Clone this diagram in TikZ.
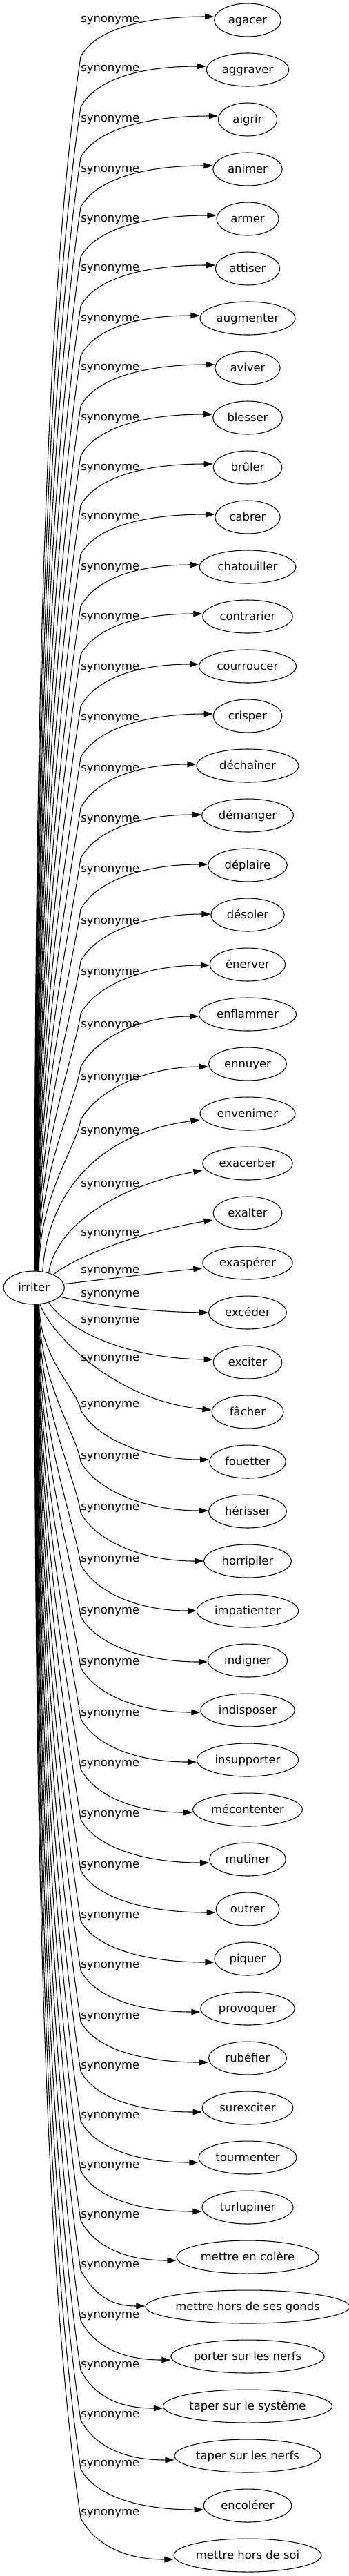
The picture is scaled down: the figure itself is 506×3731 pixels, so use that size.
\documentclass[tikz,border=0pt]{standalone}
\usepackage{fontspec}
\setmainfont{DejaVu Sans}
\usetikzlibrary{shapes.geometric,arrows.meta,calc}
\begin{document}
\begin{tikzpicture}[x=0.75pt,y=-0.75pt,
  every node/.style={font=\fontsize{12.3pt}{14pt}\selectfont, text height=10pt, text depth=1.4pt, inner sep=0pt},
  word/.style={ellipse, draw, line width=0.8pt, minimum height=36pt, minimum width=#1*0.75pt},
  lbl/.style={anchor=west},
  edge/.style={draw, line width=0.8pt, -{Triangle[length=9.75pt,width=6.5pt]}}]
\useasboundingbox (0,0) rectangle (506,3731);
\node[word=88.3] (irriter) at (49.2,1865) {irriter};
\foreach \i/\tx/\ww/\ly/\dty in {
0/agacer/96.7/28/-5, 1/aggraver/119.7/99/-5, 2/aigrir/85.3/172/-5, 3/animer/100.3/245/-5,
4/armer/90/317/-5, 5/attiser/93.3/388/-5, 6/augmenter/138/461/-4, 7/aviver/94.3/532/-5,
8/blesser/100.7/605/-5, 9/brûler/99.7/677/-5, 10/cabrer/94.3/748/-4, 11/chatouiller/139.7/821/-3,
12/contrarier/130.3/893/-4, 13/courroucer/141/966/-3, 14/crisper/99.7/1039/-3, 15/déchaîner/148/1113/-2,
16/démanger/132.7/1186/-1, 17/déplaire/114.7/1259/-1, 18/désoler/106.3/1334/-1, 19/énerver/109.3/1408/1,
20/enflammer/141/1484/3, 21/ennuyer/113/1560/4, 22/envenimer/138/1638/9, 23/exacerber/130.3/1715/10,
24/exalter/99.7/1786/10, 25/exaspérer/130.3/1840/8, 26/excéder/113/1874/0, 27/exciter/99.7/1912/-4,
28/fâcher/104/1967/-3, 29/fouetter/110.7/2034/-3, 30/hérisser/113/2109/-1, 31/horripiler/127/2183/0,
32/impatienter/147.3/2258/0, 33/indigner/115.3/2333/2, 34/indisposer/136.3/2407/3, 35/insupporter/147.3/2481/3,
36/mécontenter/158.7/2554/4, 37/mutiner/110.7/2627/5, 38/outrer/91.7/2701/5, 39/piquer/96/2774/5,
40/provoquer/136.3/2846/5, 41/rubéfier/113/2920/6, 42/surexciter/131.7/2992/6, 43/tourmenter/142/3064/7,
44/turlupiner/132/3136/6, 45/mettre en colère/206/3208/5, 46/mettre hors de ses gonds/283.3/3280/-1,
47/porter sur les nerfs/222.3/3353/5, 48/taper sur le système/245/3425/3, 49/taper sur les nerfs/212/3497/6,
50/encolérer/127.7/3568/6, 51/mettre hors de soi/214/3639/6} {
  \node[word=\ww] (n\i) at (359,{29+72*\i}) {\tx};
  \node[lbl] (l\i) at (117,{\ly-1}) {synonyme};
  \coordinate (T\i) at ($(n\i.west)+(0,\dty)$);
  \coordinate (M\i) at ({(117+359-\ww/2)/2},{29+72*\i+\dty});
}
% upper edges with bend near the labels
\foreach \i/\yb in {0/82,1/155,2/228,3/300,4/372,5/443,6/515,7/588,8/660,9/732,10/803,
  11/878,12/948,13/1023,14/1097,15/1170,16/1243,17/1317,18/1392,19/1468,20/1545,21/1622} {
  \pgfmathsetmacro\dist{1841-\yb}
  \pgfmathsetmacro\sx{1+0.3*\i}
  \draw[edge] ($(irriter.north)+(\sx,0)$) .. controls ($(irriter.north)+(\sx,{-0.5*\dist})$) and ({117-0.0267*\dist},{\yb+0.18*\dist}) .. (117,\yb) .. controls (140,{\yb-42}) and (M\i) .. (T\i);
}
% middle edges
\draw[edge] (irriter.62) .. controls (70,1720) and (150,1640) .. (T22);
\draw[edge] (irriter.45) .. controls (80,1780) and (160,1720) .. (T23);
\draw[edge] (irriter.34) .. controls (110,1820) and (200,1785) .. (T24);
\draw[edge] (irriter.7) .. controls (160,1852) and (230,1843) .. (T25);
\draw[edge] (irriter.-19) .. controls (140,1891) and (220,1900) .. (T26);
\draw[edge] (irriter.-45) .. controls (100,1930) and (190,1968) .. (T27);
\draw[edge] (irriter.-70) .. controls (75,1935) and (170,2030) .. (T28);
% lower edges
\foreach \i/\ly in {29/2034,30/2109,31/2183,32/2258,33/2333,34/2407,35/2481,36/2554,37/2627,
  38/2701,39/2774,40/2846,41/2920,42/2992,43/3064,44/3136,45/3208,46/3280,47/3353,48/3425,
  49/3497,50/3568,51/3639} {
  \pgfmathsetmacro\yb{\ly+8}
  \pgfmathsetmacro\dist{\yb-1889}
  \pgfmathsetmacro\sx{1+0.3*(51-\i)}
  \draw[edge] ($(irriter.south)+(\sx,0)$) .. controls ($(irriter.south)+(\sx,{0.5*\dist})$) and ({117-0.0267*\dist},{\yb-0.18*\dist}) .. (117,\yb) .. controls (139,{\yb+41}) and (M\i) .. (T\i);
}
\end{tikzpicture}
\end{document}
